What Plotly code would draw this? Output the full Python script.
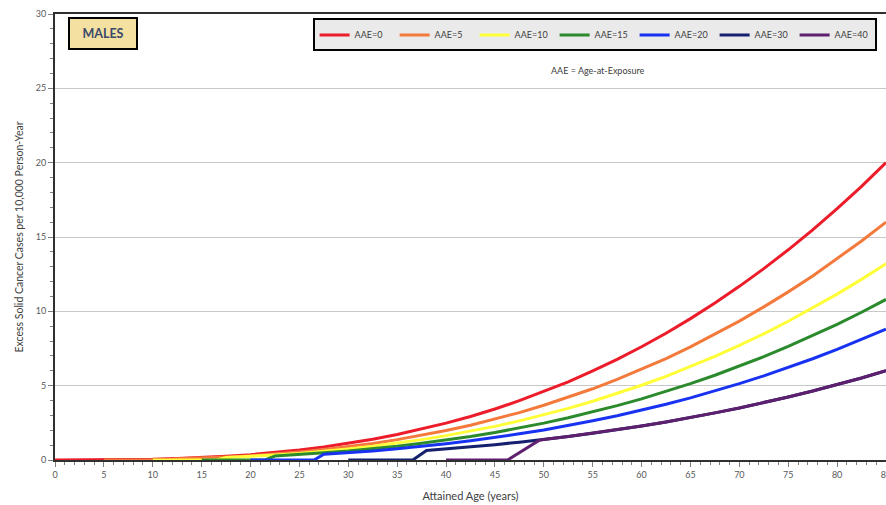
import plotly.graph_objects as go

# Attained age grids (years) and excess solid cancer cases per 10,000 person-years
ages_aae0 = [0, 2.5, 5, 7.5, 10, 12.5, 15, 17.5, 20, 22.5, 25, 27.5, 30, 32.5, 35, 37.5, 40,
             42.5, 45, 47.5, 50, 52.5, 55, 57.5, 60, 62.5, 65, 67.5, 70, 72.5, 75, 77.5, 80, 82.5, 85]
risk_aae0 = [0, 0.00, 0.01, 0.02, 0.05, 0.10, 0.16, 0.25, 0.36, 0.50, 0.67, 0.88, 1.12, 1.39, 1.71,
             2.07, 2.48, 2.93, 3.43, 3.99, 4.60, 5.26, 5.99, 6.77, 7.62, 8.53, 9.51, 10.56, 11.68,
             12.87, 14.14, 15.48, 16.91, 18.41, 20.0]

ages_aae5 = [5, 7.5, 10, 11.5, 12.5, 15, 17.5, 20, 22.5, 25, 27.5, 30, 32.5, 35, 37.5, 40, 42.5,
             45, 47.5, 50, 52.5, 55, 57.5, 60, 62.5, 65, 67.5, 70, 72.5, 75, 77.5, 80, 82.5, 85]
risk_aae5 = [0, 0, 0, 0, 0.08, 0.13, 0.20, 0.29, 0.40, 0.54, 0.70, 0.90, 1.11, 1.37, 1.66, 1.98,
             2.34, 2.74, 3.19, 3.68, 4.21, 4.79, 5.42, 6.10, 6.82, 7.61, 8.45, 9.34, 10.30, 11.31,
             12.38, 13.53, 14.73, 16.0]

ages_aae10 = [10, 12.5, 15, 16.5, 17.5, 20, 22.5, 25, 27.5, 30, 32.5, 35, 37.5, 40, 42.5, 45,
              47.5, 50, 52.5, 55, 57.5, 60, 62.5, 65, 67.5, 70, 72.5, 75, 77.5, 80, 82.5, 85]
risk_aae10 = [0, 0, 0, 0, 0.17, 0.24, 0.33, 0.44, 0.58, 0.74, 0.92, 1.13, 1.37, 1.64, 1.93, 2.26,
              2.63, 3.04, 3.47, 3.95, 4.47, 5.03, 5.63, 6.28, 6.97, 7.71, 8.49, 9.33, 10.22, 11.16,
              12.15, 13.2]

ages_aae15 = [15, 17.5, 20, 21.5, 22.5, 25, 27.5, 30, 32.5, 35, 37.5, 40, 42.5, 45, 47.5, 50,
              52.5, 55, 57.5, 60, 62.5, 65, 67.5, 70, 72.5, 75, 77.5, 80, 82.5, 85]
risk_aae15 = [0, 0, 0, 0, 0.27, 0.36, 0.48, 0.60, 0.75, 0.92, 1.12, 1.34, 1.58, 1.85, 2.15, 2.48,
              2.84, 3.23, 3.66, 4.11, 4.61, 5.14, 5.70, 6.31, 6.95, 7.64, 8.36, 9.13, 9.94, 10.8]

ages_aae20 = [20, 22.5, 25, 26.5, 27.5, 30, 32.5, 35, 37.5, 40, 42.5, 45, 47.5, 50, 52.5, 55,
              57.5, 60, 62.5, 65, 67.5, 70, 72.5, 75, 77.5, 80, 82.5, 85]
risk_aae20 = [0, 0, 0, 0, 0.39, 0.49, 0.61, 0.75, 0.91, 1.09, 1.29, 1.51, 1.76, 2.02, 2.31, 2.64,
              2.98, 3.35, 3.75, 4.18, 4.65, 5.14, 5.66, 6.22, 6.81, 7.44, 8.10, 8.8]

ages_aae30 = [30, 32.5, 35, 36.6, 38, 40, 42.5, 45, 47.5, 50, 52.5, 55, 57.5, 60, 62.5, 65, 67.5,
              70, 72.5, 75, 77.5, 80, 82.5, 85]
risk_aae30 = [0, 0, 0, 0, 0.64, 0.74, 0.88, 1.03, 1.20, 1.38, 1.58, 1.80, 2.03, 2.29, 2.56, 2.85,
              3.17, 3.50, 3.86, 4.24, 4.64, 5.07, 5.52, 6.0]

ages_aae40 = [40, 42.5, 45, 46.3, 49.5, 50, 52.5, 55, 57.5, 60, 62.5, 65, 67.5, 70, 72.5, 75, 77.5,
              80, 82.5, 85]
risk_aae40 = [0, 0, 0, 0, 1.32, 1.38, 1.58, 1.80, 2.03, 2.29, 2.56, 2.85, 3.17, 3.50, 3.86, 4.24,
              4.64, 5.07, 5.52, 6.0]

series_names = ["AAE=0", "AAE=5", "AAE=10", "AAE=15", "AAE=20", "AAE=30", "AAE=40"]
series_ages = [ages_aae0, ages_aae5, ages_aae10, ages_aae15, ages_aae20, ages_aae30, ages_aae40]
series_risk = [risk_aae0, risk_aae5, risk_aae10, risk_aae15, risk_aae20, risk_aae30, risk_aae40]
series_colors = ["#EC1C2A", "#F47A3C", "#FFFF38", "#2B8A2B", "#1832F2", "#15216E", "#5E1F6E"]

fig = go.Figure()
for name, xs, ys, col in zip(series_names, series_ages, series_risk, series_colors):
    fig.add_trace(go.Scatter(x=xs, y=ys, name=name, mode="lines",
                             line=dict(color=col, width=3)))

font_family = "Lato, Open Sans, sans-serif"

fig.update_layout(
    width=886, height=505,
    margin=dict(l=55, r=0, t=14, b=45),
    paper_bgcolor="white", plot_bgcolor="white",
    font=dict(family=font_family, color="#404040"),
    legend=dict(orientation="h", x=0.31, y=0.99, xanchor="left", yanchor="top",
                bgcolor="#EAEAEA", bordercolor="black", borderwidth=2,
                font=dict(size=9, color="#404040"), entrywidth=35,
                itemwidth=30, tracegroupgap=0),
)

fig.update_xaxes(
    range=[0, 85], tick0=0, dtick=5, automargin=False, ticklabeloverflow="allow",
    ticks="outside", ticklen=5, tickcolor="#7F7F7F",
    minor=dict(dtick=1, ticks="outside", ticklen=3, tickcolor="#7F7F7F"),
    showline=True, linecolor="#303030", linewidth=2, mirror=True,
    showgrid=False, zeroline=False,
    tickfont=dict(size=9, color="#595959"),
    title=dict(text="Attained Age (years)", font=dict(size=11, color="#404040"), standoff=14),
)
fig.update_yaxes(
    range=[0, 30], tick0=0, dtick=5, automargin=False,
    ticks="outside", ticklen=5, tickcolor="#7F7F7F",
    minor=dict(dtick=1, ticks="outside", ticklen=3, tickcolor="#7F7F7F"),
    showline=True, linecolor="#303030", linewidth=2,
    showgrid=True, gridcolor="#C8C8C8", gridwidth=1, zeroline=False,
    tickfont=dict(size=9, color="#595959"),
    title=dict(text="Excess Solid Cancer Cases per 10,000 Person-Year",
               font=dict(size=10.5, color="#404040"), standoff=10),
)

fig.add_annotation(x=0.016, y=0.993, xref="paper", yref="paper", xanchor="left", yanchor="top",
                   text="<b>MALES</b>", showarrow=False, width=62, height=25,
                   font=dict(size=12.5, color="#3B4A6B", family=font_family),
                   bgcolor="#F4E1A1", bordercolor="black", borderwidth=2, borderpad=2)
fig.add_annotation(x=0.653, y=0.874, xref="paper", yref="paper", xanchor="center", yanchor="middle",
                   text="AAE = Age-at-Exposure", showarrow=False,
                   font=dict(size=9, color="#404040", family=font_family))

fig.write_html("out.html")
